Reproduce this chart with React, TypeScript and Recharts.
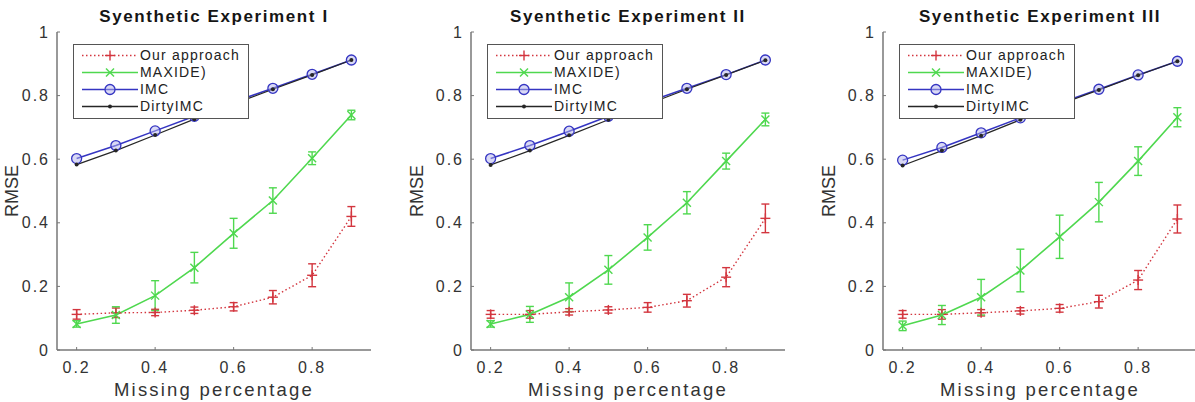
import React from 'react';
import { LineChart, Line, XAxis, YAxis, ErrorBar, Legend, Label } from 'recharts';

// ---------- data ----------
const missing = [0.2, 0.3, 0.4, 0.5, 0.6, 0.7, 0.8, 0.9];
const titles = ['Syenthetic Experiment I', 'Syenthetic Experiment II', 'Syenthetic Experiment III'];
const seriesNames = ['Our approach', 'MAXIDE)', 'IMC', 'DirtyIMC'];
const xTicks = [0.2, 0.4, 0.6, 0.8];
const yTicks = [0, 0.2, 0.4, 0.6, 0.8, 1];

const our1 = [0.112, 0.117, 0.118, 0.125, 0.136, 0.166, 0.235, 0.42];
const our1Err = [0.015, 0.015, 0.01, 0.01, 0.013, 0.021, 0.036, 0.031];
const maxide1 = [0.082, 0.11, 0.171, 0.259, 0.367, 0.47, 0.603, 0.739];
const maxide1Err = [0.01, 0.026, 0.047, 0.048, 0.047, 0.04, 0.02, 0.015];
const imc1 = [0.602, 0.643, 0.689, 0.735, 0.78, 0.823, 0.867, 0.912];
const dirty1 = [0.583, 0.627, 0.676, 0.726, 0.774, 0.82, 0.865, 0.912];

const our2 = [0.112, 0.112, 0.12, 0.126, 0.134, 0.155, 0.229, 0.414];
const our2Err = [0.012, 0.012, 0.01, 0.01, 0.015, 0.02, 0.03, 0.045];
const maxide2 = [0.082, 0.112, 0.166, 0.252, 0.354, 0.463, 0.594, 0.725];
const maxide2Err = [0.01, 0.025, 0.045, 0.045, 0.04, 0.035, 0.025, 0.02];
const imc2 = [0.602, 0.643, 0.688, 0.735, 0.78, 0.823, 0.866, 0.912];
const dirty2 = [0.582, 0.627, 0.675, 0.724, 0.773, 0.82, 0.865, 0.911];

const our3 = [0.112, 0.112, 0.117, 0.123, 0.131, 0.152, 0.22, 0.412];
const our3Err = [0.012, 0.015, 0.01, 0.01, 0.012, 0.02, 0.03, 0.044];
const maxide3 = [0.076, 0.11, 0.166, 0.25, 0.356, 0.465, 0.594, 0.732];
const maxide3Err = [0.015, 0.03, 0.056, 0.067, 0.068, 0.062, 0.045, 0.03];
const imc3 = [0.597, 0.637, 0.683, 0.73, 0.776, 0.82, 0.865, 0.908];
const dirty3 = [0.58, 0.627, 0.674, 0.724, 0.772, 0.818, 0.864, 0.908];

const panelSeries = [
  { our: our1, ourErr: our1Err, maxide: maxide1, maxideErr: maxide1Err, imc: imc1, dirty: dirty1 },
  { our: our2, ourErr: our2Err, maxide: maxide2, maxideErr: maxide2Err, imc: imc2, dirty: dirty2 },
  { our: our3, ourErr: our3Err, maxide: maxide3, maxideErr: maxide3Err, imc: imc3, dirty: dirty3 },
];

const buildData = (s: any) =>
  missing.map((x, i) => ({
    x,
    our: s.our[i],
    ourErr: s.ourErr[i],
    maxide: s.maxide[i],
    maxideErr: s.maxideErr[i],
    imc: s.imc[i],
    dirty: s.dirty[i],
  }));

// ---------- styles ----------
const FONT = "'Liberation Sans', Arial, Helvetica, sans-serif";
const COLORS: Record<string, string> = {
  our: '#d3363f',
  maxide: '#4fd84f',
  imc: '#3535c2',
  dirty: '#262626',
};
const AXIS = '#777';
const PLOT_LEFTS = [57, 471, 883];
const Y_AXIS_W = 70;
const RMSE_OFFSETS = [39, 48, 48];

function marker(kind: string, cx: number, cy: number, key: string) {
  const c = COLORS[kind];
  if (kind === 'our') {
    return (
      <g key={key}>
        <line x1={cx - 5} y1={cy} x2={cx + 5} y2={cy} stroke={c} strokeWidth={1.4} />
        <line x1={cx} y1={cy - 5} x2={cx} y2={cy + 5} stroke={c} strokeWidth={1.4} />
      </g>
    );
  }
  if (kind === 'maxide') {
    return (
      <g key={key}>
        <line x1={cx - 4} y1={cy - 4} x2={cx + 4} y2={cy + 4} stroke={c} strokeWidth={1.4} />
        <line x1={cx - 4} y1={cy + 4} x2={cx + 4} y2={cy - 4} stroke={c} strokeWidth={1.4} />
      </g>
    );
  }
  if (kind === 'imc') {
    return <circle key={key} cx={cx} cy={cy} r={5} stroke={c} strokeWidth={1.3} fill="rgba(180,180,235,0.5)" />;
  }
  return <circle key={key} cx={cx} cy={cy} r={2} fill={c} stroke="none" />;
}

const dotFor = (kind: string) => (props: any) => {
  const { cx, cy, index } = props;
  if (cx == null || cy == null) return <g key={`${kind}-${index}`} />;
  return marker(kind, cx, cy, `${kind}-${index}`);
};

const renderLegend = (props: any) => {
  const payload = [...(props.payload || [])].sort(
    (a: any, b: any) => seriesNames.indexOf(a.value) - seriesNames.indexOf(b.value)
  );
  return (
    <div
      style={{
        boxSizing: 'border-box',
        width: 176,
        height: 75,
        border: '1px solid #555',
        background: '#fff',
        paddingTop: 2,
        fontFamily: FONT,
      }}
    >
      {payload.map((entry: any, i: number) => {
        const kind = String(entry.dataKey);
        const c = COLORS[kind];
        return (
          <div key={i} style={{ display: 'flex', alignItems: 'center', height: 17 }}>
            <svg width={66} height={17} style={{ flex: 'none' }}>
              <line
                x1={8}
                y1={8.5}
                x2={64}
                y2={8.5}
                stroke={c}
                strokeWidth={1.3}
                strokeDasharray={kind === 'our' ? '1.5 2.5' : undefined}
              />
              {marker(kind, 36, 8.5, `lg-${i}`)}
            </svg>
            <span style={{ fontSize: 14, letterSpacing: 1.2, color: '#222', lineHeight: '17px' }}>
              {entry.value}
            </span>
          </div>
        );
      })}
    </div>
  );
};

const makeRmseLabel = (offset: number) => (p: any) => {
  const vb = p.viewBox || { x: 0, y: 32, width: Y_AXIS_W, height: 318 };
  const x = vb.x + vb.width - offset;
  const y = vb.y + vb.height / 2;
  return (
    <text
      x={x}
      y={y}
      transform={`rotate(-90 ${x} ${y})`}
      textAnchor="middle"
      fontSize={18}
      fill="#333"
      fontFamily={FONT}
    >
      RMSE
    </text>
  );
};

function Panel({ index }: { index: number }) {
  const data = buildData(panelSeries[index]);
  const left = PLOT_LEFTS[index] - Y_AXIS_W;
  return (
    <div style={{ position: 'absolute', left, top: 0, width: 413, height: 402 }}>
      <LineChart
        width={413}
        height={402}
        data={data}
        margin={{ top: 32, right: 29, bottom: 0, left: 0 }}
      >
        <XAxis
          dataKey="x"
          type="number"
          domain={[0.15, 0.95]}
          ticks={xTicks}
          height={52}
          axisLine={{ stroke: AXIS, strokeWidth: 1.5 }}
          tickLine={{ stroke: AXIS }}
          tickSize={-3}
          tickMargin={15}
          tick={{ fill: '#333', fontSize: 16, fontFamily: FONT, style: { letterSpacing: 2 } }}
          label={{
            value: 'Missing percentage',
            position: 'insideBottom',
            offset: 6,
            fill: '#333',
            fontSize: 18.5,
            fontFamily: FONT,
            style: { letterSpacing: 2.2 },
          }}
        />
        <YAxis
          type="number"
          domain={[0, 1]}
          ticks={yTicks}
          width={Y_AXIS_W}
          axisLine={{ stroke: AXIS, strokeWidth: 1.5 }}
          tickLine={{ stroke: AXIS }}
          tickSize={-3}
          tickMargin={10}
          tick={{ fill: '#333', fontSize: 16, fontFamily: FONT, style: { letterSpacing: 2 } }}
        >
          <Label content={makeRmseLabel(RMSE_OFFSETS[index])} />
        </YAxis>
        <Line
          dataKey="our"
          name={seriesNames[0]}
          type="linear"
          stroke={COLORS.our}
          strokeWidth={1.4}
          strokeDasharray="1.5 2.5"
          dot={dotFor('our')}
          activeDot={false}
          isAnimationActive={false}
        >
          <ErrorBar dataKey="ourErr" direction="y" width={4} stroke={COLORS.our} strokeWidth={1.4} isAnimationActive={false} />
        </Line>
        <Line
          dataKey="maxide"
          name={seriesNames[1]}
          type="linear"
          stroke={COLORS.maxide}
          strokeWidth={1.6}
          dot={dotFor('maxide')}
          activeDot={false}
          isAnimationActive={false}
        >
          <ErrorBar dataKey="maxideErr" direction="y" width={4} stroke={COLORS.maxide} strokeWidth={1.4} isAnimationActive={false} />
        </Line>
        <Line
          dataKey="imc"
          name={seriesNames[2]}
          type="linear"
          stroke={COLORS.imc}
          strokeWidth={1.5}
          dot={dotFor('imc')}
          activeDot={false}
          isAnimationActive={false}
        />
        <Line
          dataKey="dirty"
          name={seriesNames[3]}
          type="linear"
          stroke={COLORS.dirty}
          strokeWidth={1.2}
          dot={dotFor('dirty')}
          activeDot={false}
          isAnimationActive={false}
        />
        <Legend
          layout="vertical"
          align="center"
          verticalAlign="middle"
          itemSorter={(item: any) => seriesNames.indexOf(item.value)}
          content={renderLegend}
          wrapperStyle={{ left: Y_AXIS_W + 16, top: 44, width: 176, height: 75 }}
        />
      </LineChart>
      <div
        style={{
          position: 'absolute',
          left: Y_AXIS_W,
          width: 314,
          top: 7,
          textAlign: 'center',
          fontFamily: FONT,
          fontWeight: 'bold',
          fontSize: 17,
          letterSpacing: 1.6,
          lineHeight: '20px',
          color: '#151515',
          whiteSpace: 'nowrap',
        }}
      >
        {titles[index]}
      </div>
    </div>
  );
}

export default function App() {
  return (
    <div
      style={{
        position: 'absolute',
        left: 0,
        top: 0,
        width: 1195,
        height: 402,
        overflow: 'hidden',
        background: '#fff',
        fontFamily: FONT,
      }}
    >
      {[0, 1, 2].map((i) => (
        <Panel key={i} index={i} />
      ))}
    </div>
  );
}
